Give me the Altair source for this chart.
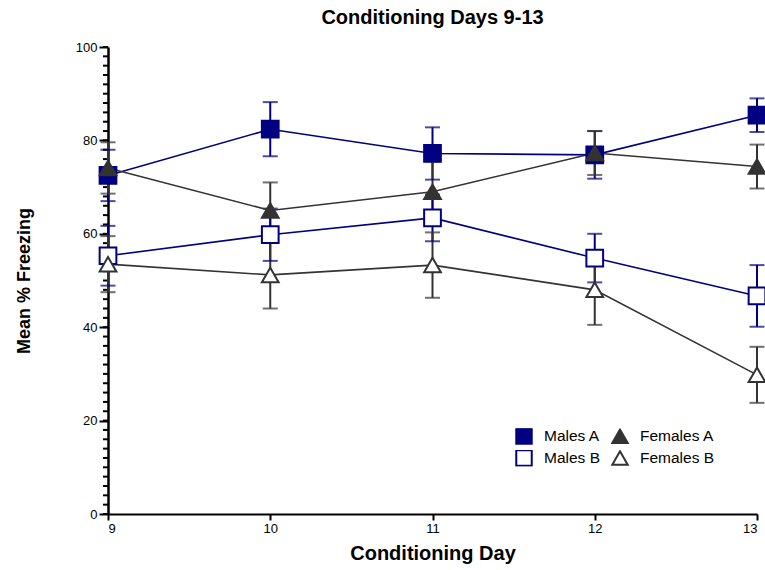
import altair as alt
import pandas as pd

days = [9, 10, 11, 12, 13]
groups = ["Males A", "Males B", "Females A", "Females B"]
males_a = [72.5, 82.4, 77.2, 76.9, 85.4]
males_a_err = [5.5, 5.8, 5.6, 5.1, 3.6]
females_a = [74.1, 65.0, 69.0, 77.3, 74.4]
females_a_err = [5.5, 6.0, 6.5, 4.7, 4.7]
males_b = [55.3, 59.8, 63.4, 54.8, 46.7]
males_b_err = [6.4, 5.6, 5.0, 5.2, 6.6]
females_b = [53.5, 51.2, 53.3, 48.0, 29.8]
females_b_err = [6.0, 7.2, 7.0, 7.5, 6.0]
minor_ticks = list(range(0, 101, 2))

colors = ["#000080", "#000080", "#333333", "#333333"]
fills = ["#000080", "#ffffff", "#333333", "#ffffff"]
shapes = ["square", "square", "triangle-up", "triangle-up"]
# line / error-bar colours use a differently ordered domain so their (hidden) legend
# is not merged with the symbol legend
line_groups = ["Males A", "Females A", "Males B", "Females B"]
line_colors = ["#000080", "#333333", "#000080", "#333333"]

rows = []
for g, vals, errs in [("Males A", males_a, males_a_err), ("Females A", females_a, females_a_err),
                      ("Males B", males_b, males_b_err), ("Females B", females_b, females_b_err)]:
    for d, v, e in zip(days, vals, errs):
        rows.append({"group": g, "day": d, "mean": v, "lo": v - e, "hi": v + e})
df = pd.DataFrame(rows)

FONT = "Liberation Sans"
xs = alt.Scale(domain=[9, 13], nice=False, zero=False)
ys = alt.Scale(domain=[0, 100], nice=False)
col = alt.Color("group:N", scale=alt.Scale(domain=line_groups, range=line_colors), legend=None)

x_enc = alt.X("day:Q", scale=xs, axis=alt.Axis(values=days, format="d", title="Conditioning Day",
              tickSize=6, tickWidth=2, domainWidth=2, domainColor="black", tickColor="black",
              labelFontSize=13, labelColor="black", labelPadding=2, labelFont=FONT,
              titleFont=FONT, titleFontSize=20, titleFontWeight="bold", titlePadding=8,
              titleColor="black", grid=False))
y_axis = alt.Axis(values=[0, 20, 40, 60, 80, 100], title="Mean % Freezing", tickSize=9, tickWidth=2,
                  domainWidth=2.5, domainColor="black", tickColor="black", labelFontSize=13,
                  labelColor="black", labelPadding=2, labelFont=FONT, titleFont=FONT,
                  titleFontSize=18, titleFontWeight="bold", titlePadding=42, titleColor="black",
                  grid=False)

base = alt.Chart(df)

minor = alt.Chart(pd.DataFrame({"v": minor_ticks})).mark_rule(color="black", strokeWidth=2).encode(
    y=alt.Y("v:Q", scale=ys, axis=y_axis), x=alt.value(-5), x2=alt.value(0))

err_rule = base.mark_rule(strokeWidth=2).encode(
    x=x_enc, y=alt.Y("lo:Q", scale=ys), y2="hi:Q", color=col)
cap_lo = base.mark_tick(orient="horizontal", size=15, thickness=2).encode(
    x=x_enc, y=alt.Y("lo:Q", scale=ys), color=col)
cap_hi = base.mark_tick(orient="horizontal", size=15, thickness=2).encode(
    x=x_enc, y=alt.Y("hi:Q", scale=ys), color=col)
lines = base.mark_line(strokeWidth=1.6).encode(
    x=x_enc, y=alt.Y("mean:Q", scale=ys), color=col, detail="group:N")

legend = alt.Legend(title=None, orient="none", legendX=407, legendY=381, columns=2)
points = base.mark_point(opacity=1, fillOpacity=1, strokeWidth=2).encode(
    x=x_enc, y=alt.Y("mean:Q", scale=ys),
    shape=alt.Shape("group:N", scale=alt.Scale(domain=groups, range=shapes), legend=legend),
    fill=alt.Fill("group:N", scale=alt.Scale(domain=groups, range=fills), legend=legend),
    stroke=alt.Stroke("group:N", scale=alt.Scale(domain=groups, range=colors), legend=legend),
    size=alt.value(280))

chart = alt.layer(minor, err_rule, cap_lo, cap_hi, lines, points).properties(
    width=649, height=467,
    title=alt.Title("Conditioning Days 9-13", font=FONT, fontSize=20, fontWeight="bold",
                    color="black", anchor="middle", offset=13),
    padding={"left": 108, "top": 47, "right": 8, "bottom": 56},
    autosize="none",
    background="white",
).configure_view(stroke=None).configure_legend(
    labelFontSize=15.5, labelFont=FONT, labelColor="black", symbolSize=240,
    symbolStrokeWidth=2, columnPadding=11, rowPadding=5, clipHeight=16, labelOffset=11, padding=0)

chart.save("out.html", embed_options={"renderer": "svg", "actions": False})
